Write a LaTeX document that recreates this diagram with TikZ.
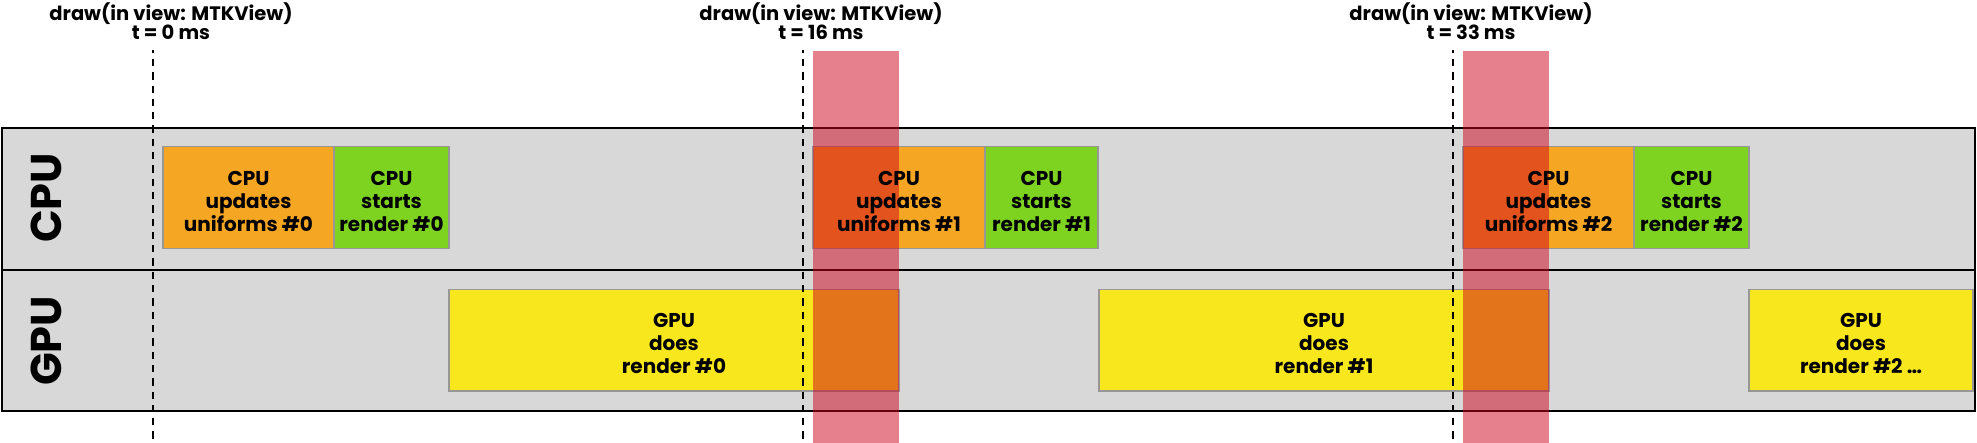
\documentclass[tikz,border=0pt]{standalone}
\usepackage{fontspec}
\setmainfont{Poppins}
\definecolor{lanegray}{HTML}{D8D8D8}
\definecolor{orng}{HTML}{F5A623}
\definecolor{grn}{HTML}{7ED321}
\definecolor{yel}{HTML}{F8E71C}
\definecolor{bandred}{HTML}{D0021B}
\definecolor{boxline}{HTML}{979797}
\begin{document}
\begin{tikzpicture}[x=1pt,y=-1pt,
  lanebox/.style={fill=lanegray, draw=black, line width=2pt, inner sep=0pt, outer sep=0pt, anchor=north west, minimum width=1973pt},
  taskbox/.style={draw=boxline, line width=1.5pt, inner sep=0pt, outer sep=0pt, anchor=north west, minimum height=101.6pt},
  band/.style={fill=bandred, fill opacity=0.5, inner sep=0pt, outer sep=0pt, anchor=north west, minimum width=86pt, minimum height=392pt},
  tick/.style={line width=2pt, dash pattern=on 7.3pt off 6pt, dash phase=4.3pt},
  boxtext/.style={font=\bfseries\fontsize{20}{23}\selectfont, align=center, inner sep=0pt},
  hdr/.style={font=\bfseries\fontsize{19.5}{19.5}\selectfont, align=center, inner sep=0pt, anchor=base},
  lanetext/.style={font=\bfseries\fontsize{43}{43}\selectfont, rotate=90, inner sep=0pt}
]
\useasboundingbox (0,0) rectangle (1977,443);

% lanes
\node[lanebox, minimum height=142pt] (cpulane) at (2,128) {};
\node[lanebox, minimum height=141pt] (gpulane) at (2,270) {};
\draw[line width=2.5pt] (cpulane.north west) rectangle (gpulane.south east);

% CPU tasks
\node[taskbox, fill=orng, minimum width=171pt] (upd0) at (163,146.7) {};
\node[taskbox, fill=grn,  minimum width=115pt] (st0)  at (334,146.7) {};
\node[taskbox, fill=orng, minimum width=172pt] (upd1) at (813,146.7) {};
\node[taskbox, fill=grn,  minimum width=113pt] (st1)  at (985,146.7) {};
\node[taskbox, fill=orng, minimum width=171pt] (upd2) at (1463,146.7) {};
\node[taskbox, fill=grn,  minimum width=115pt] (st2)  at (1634,146.7) {};

% GPU tasks
\node[taskbox, fill=yel, minimum width=450pt] (gr0) at (449,289.3) {};
\node[taskbox, fill=yel, minimum width=450pt] (gr1) at (1099,289.3) {};
\node[taskbox, fill=yel, minimum width=224pt] (gr2) at (1749,289.3) {};

% red bands
\node[band] (band1) at (813,51) {};
\node[band] (band2) at (1463,51) {};

% vsync dashed lines
\coordinate (v0top) at (153,50);   \coordinate (v0bot) at (153,443);
\coordinate (v1top) at (803,50);   \coordinate (v1bot) at (803,443);
\coordinate (v2top) at (1453,50);  \coordinate (v2bot) at (1453,443);
\draw[tick] (v0top) -- (v0bot);
\draw[tick] (v1top) -- (v1bot);
\draw[tick] (v2top) -- (v2bot);

% box texts
\node[boxtext] (upd0t) at ([yshift=-4pt]upd0.center) {CPU\\updates\\uniforms \#0};
\node[boxtext] (st0t)  at ([yshift=-4pt]st0.center)  {CPU\\starts\\render \#0};
\node[boxtext] (upd1t) at ([yshift=-4pt]upd1.center) {CPU\\updates\\uniforms \#1};
\node[boxtext] (st1t)  at ([yshift=-4pt]st1.center)  {CPU\\starts\\render \#1};
\node[boxtext] (upd2t) at ([yshift=-4pt]upd2.center) {CPU\\updates\\uniforms \#2};
\node[boxtext] (st2t)  at ([yshift=-4pt]st2.center)  {CPU\\starts\\render \#2};
\node[boxtext] (gr0t)  at ([yshift=-3.5pt]gr0.center) {GPU\\does\\render \#0};
\node[boxtext] (gr1t)  at ([yshift=-3.5pt]gr1.center) {GPU\\does\\render \#1};
\node[boxtext] (gr2t)  at ([yshift=-3.5pt]gr2.center) {GPU\\does\\render \#2 \dots};

% lane labels
\node[lanetext] (cpul) at (46.5,198) {CPU};
\node[lanetext] (gpul) at (46.5,341) {GPU};

% headers
\node[hdr] (h0) at (171,40) {draw(in view: MTKView)\\t = 0 ms};
\node[hdr] (h1) at (821,40) {draw(in view: MTKView)\\t = 16 ms};
\node[hdr] (h2) at (1471,40) {draw(in view: MTKView)\\t = 33 ms};
\end{tikzpicture}
\end{document}
